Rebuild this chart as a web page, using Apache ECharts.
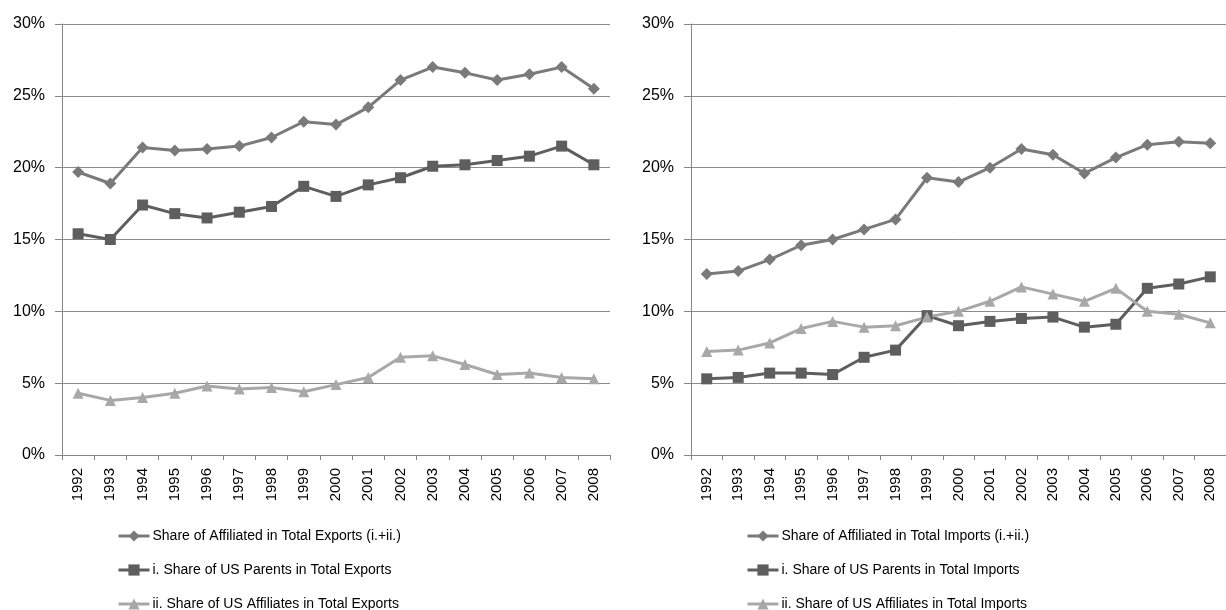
<!DOCTYPE html>
<html>
<head>
<meta charset="utf-8">
<script src="https://cdn.jsdelivr.net/npm/echarts@6/dist/echarts.min.js"></script>
<style>
html,body{margin:0;padding:0;background:#fff;}
#c{width:1226px;height:610px;}
</style>
</head>
<body>
<div id="c"></div>
<script>
const years = ['1992','1993','1994','1995','1996','1997','1998','1999','2000','2001','2002','2003','2004','2005','2006','2007','2008'];
const yTicks = [0, 5, 10, 15, 20, 25, 30];

const exportNames = ['Share of Affiliated in Total Exports (i.+ii.)', 'i. Share of US Parents in Total Exports', 'ii. Share of US Affiliates in Total Exports'];
const importNames = ['Share of Affiliated in Total Imports (i.+ii.)', 'i. Share of US Parents in Total Imports', 'ii. Share of US Affiliates in Total Imports'];

const affiliatedExports = [19.7, 18.9, 21.4, 21.2, 21.3, 21.5, 22.1, 23.2, 23.0, 24.2, 26.1, 27.0, 26.6, 26.1, 26.5, 27.0, 25.5];
const parentsExports    = [15.4, 15.0, 17.4, 16.8, 16.5, 16.9, 17.3, 18.7, 18.0, 18.8, 19.3, 20.1, 20.2, 20.5, 20.8, 21.5, 20.2];
const affiliatesExports = [4.3, 3.8, 4.0, 4.3, 4.8, 4.6, 4.7, 4.4, 4.9, 5.4, 6.8, 6.9, 6.3, 5.6, 5.7, 5.4, 5.3];

const affiliatedImports = [12.6, 12.8, 13.6, 14.6, 15.0, 15.7, 16.4, 19.3, 19.0, 20.0, 21.3, 20.9, 19.6, 20.7, 21.6, 21.8, 21.7];
const parentsImports    = [5.3, 5.4, 5.7, 5.7, 5.6, 6.8, 7.3, 9.7, 9.0, 9.3, 9.5, 9.6, 8.9, 9.1, 11.6, 11.9, 12.4];
const affiliatesImports = [7.2, 7.3, 7.8, 8.8, 9.3, 8.9, 9.0, 9.6, 10.0, 10.7, 11.7, 11.2, 10.7, 11.6, 10.0, 9.8, 9.2];

const C_AFF = '#7a7a7a', C_PAR = '#5e5e5e', C_SUB = '#a8a8a8';
const FONT = '"Liberation Sans", Arial, sans-serif';

function xAxis(gi){
  return {
    type:'category', gridIndex:gi, data:years, boundaryGap:true,
    axisLine:{show:true, lineStyle:{color:'#868686', width:1}},
    axisTick:{show:true, length:5, lineStyle:{color:'#868686'}},
    axisLabel:{rotate:90, margin:13, color:'#000', fontSize:15, fontFamily:FONT, interval:0}
  };
}
function yAxis(gi){
  return {
    type:'value', gridIndex:gi, min:yTicks[0], max:yTicks[yTicks.length-1], interval:5,
    axisLine:{show:true, lineStyle:{color:'#868686', width:1}},
    axisTick:{show:true, length:7, lineStyle:{color:'#868686'}},
    splitLine:{show:true, lineStyle:{color:'#8c8c8c', width:1}},
    axisLabel:{formatter:'{value}%', color:'#000', fontSize:16, fontFamily:FONT, margin:17}
  };
}
function line(name, data, gi, color, symbol, size){
  return {
    name, type:'line', data, xAxisIndex:gi, yAxisIndex:gi,
    symbol, symbolSize:size, showSymbol:true,
    lineStyle:{color, width:3}, itemStyle:{color},
    animation:false
  };
}
function legend(names, left){
  return {data:names, orient:'vertical', left, top:529, height:140, itemWidth:31, itemHeight:14, itemGap:20,
    lineStyle:{width:3}, itemStyle:{borderWidth:0},
    textStyle:{color:'#000', fontSize:14, fontFamily:FONT, padding:[0,0,0,-2]}, padding:0};
}
const chart = echarts.init(document.getElementById('c'), null, {renderer:'canvas'});
chart.setOption({
  animation:false,
  backgroundColor:'#fff',
  grid:[
    {left:62, right:616, top:24, bottom:155, containLabel:false},
    {left:691, right:-13, top:24, bottom:155, containLabel:false}
  ],
  xAxis:[xAxis(0), xAxis(1)],
  yAxis:[yAxis(0), yAxis(1)],
  legend:[legend(exportNames, 117), legend(importNames, 746)],
  series:[
    line(exportNames[0], affiliatedExports, 0, C_AFF, 'diamond', 12),
    line(exportNames[1], parentsExports, 0, C_PAR, 'rect', 11),
    line(exportNames[2], affiliatesExports, 0, C_SUB, 'triangle', 11),
    line(importNames[0], affiliatedImports, 1, C_AFF, 'diamond', 12),
    line(importNames[1], parentsImports, 1, C_PAR, 'rect', 11),
    line(importNames[2], affiliatesImports, 1, C_SUB, 'triangle', 11)
  ]
});
</script>
</body>
</html>
